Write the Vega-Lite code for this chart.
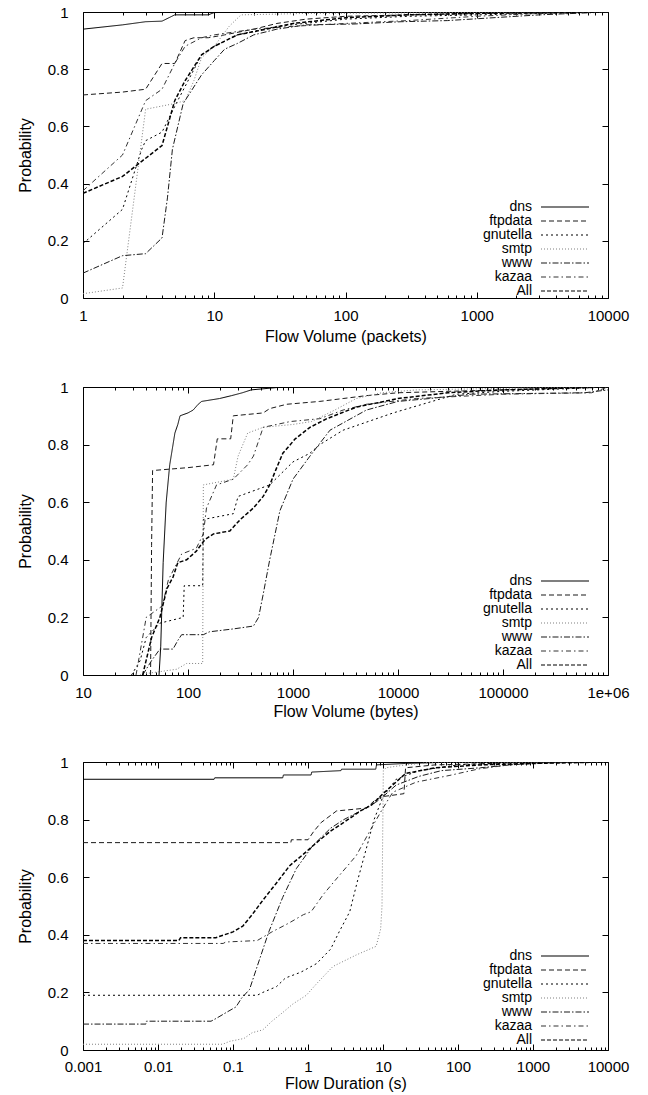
{
"$schema": "https://vega.github.io/schema/vega-lite/v6.json",
"padding": {"left": 17, "top": 5, "right": 5, "bottom": 5},
"spacing": 36,
"datasets": {
"p1": [
{"s":"dns","x":1,"p":0.94},{"s":"dns","x":2,"p":0.955},{"s":"dns","x":3,"p":0.966},{"s":"dns","x":4,"p":0.968},{"s":"dns","x":5,"p":0.99},{"s":"dns","x":9,"p":0.99},{"s":"dns","x":10,"p":0.998},{"s":"dns","x":20,"p":1},{"s":"dns","x":10000,"p":1},
{"s":"ftpdata","x":1,"p":0.71},{"s":"ftpdata","x":2,"p":0.72},{"s":"ftpdata","x":3,"p":0.73},{"s":"ftpdata","x":4,"p":0.82},{"s":"ftpdata","x":5,"p":0.82},{"s":"ftpdata","x":6,"p":0.9},{"s":"ftpdata","x":7,"p":0.91},{"s":"ftpdata","x":9,"p":0.91},{"s":"ftpdata","x":12,"p":0.92},{"s":"ftpdata","x":20,"p":0.94},{"s":"ftpdata","x":30,"p":0.96},{"s":"ftpdata","x":50,"p":0.975},{"s":"ftpdata","x":100,"p":0.985},{"s":"ftpdata","x":300,"p":0.99},{"s":"ftpdata","x":1000,"p":0.995},{"s":"ftpdata","x":10000,"p":1},
{"s":"gnutella","x":1,"p":0.19},{"s":"gnutella","x":2,"p":0.31},{"s":"gnutella","x":2.8,"p":0.52},{"s":"gnutella","x":3,"p":0.55},{"s":"gnutella","x":4,"p":0.58},{"s":"gnutella","x":5,"p":0.67},{"s":"gnutella","x":6,"p":0.74},{"s":"gnutella","x":8,"p":0.85},{"s":"gnutella","x":10,"p":0.88},{"s":"gnutella","x":15,"p":0.92},{"s":"gnutella","x":30,"p":0.95},{"s":"gnutella","x":100,"p":0.975},{"s":"gnutella","x":300,"p":0.985},{"s":"gnutella","x":1000,"p":0.99},{"s":"gnutella","x":10000,"p":1},
{"s":"smtp","x":1,"p":0.015},{"s":"smtp","x":2,"p":0.035},{"s":"smtp","x":3,"p":0.66},{"s":"smtp","x":5,"p":0.68},{"s":"smtp","x":6,"p":0.69},{"s":"smtp","x":7,"p":0.76},{"s":"smtp","x":8,"p":0.84},{"s":"smtp","x":10,"p":0.88},{"s":"smtp","x":13,"p":0.95},{"s":"smtp","x":16,"p":0.99},{"s":"smtp","x":50,"p":0.995},{"s":"smtp","x":10000,"p":1},
{"s":"www","x":1,"p":0.087},{"s":"www","x":2,"p":0.148},{"s":"www","x":3,"p":0.155},{"s":"www","x":4,"p":0.21},{"s":"www","x":4.4,"p":0.35},{"s":"www","x":4.8,"p":0.52},{"s":"www","x":5.8,"p":0.68},{"s":"www","x":8,"p":0.78},{"s":"www","x":10,"p":0.83},{"s":"www","x":12,"p":0.87},{"s":"www","x":15,"p":0.89},{"s":"www","x":20,"p":0.92},{"s":"www","x":30,"p":0.94},{"s":"www","x":50,"p":0.955},{"s":"www","x":116,"p":0.958},{"s":"www","x":265,"p":0.966},{"s":"www","x":600,"p":0.97},{"s":"www","x":3000,"p":0.99},{"s":"www","x":10000,"p":1},
{"s":"kazaa","x":1,"p":0.375},{"s":"kazaa","x":2,"p":0.5},{"s":"kazaa","x":3,"p":0.69},{"s":"kazaa","x":4,"p":0.73},{"s":"kazaa","x":5,"p":0.82},{"s":"kazaa","x":6,"p":0.88},{"s":"kazaa","x":8,"p":0.91},{"s":"kazaa","x":10,"p":0.92},{"s":"kazaa","x":20,"p":0.94},{"s":"kazaa","x":40,"p":0.95},{"s":"kazaa","x":100,"p":0.96},{"s":"kazaa","x":300,"p":0.97},{"s":"kazaa","x":1000,"p":0.985},{"s":"kazaa","x":3000,"p":0.995},{"s":"kazaa","x":10000,"p":1},
{"s":"All","x":1,"p":0.366},{"s":"All","x":2,"p":0.425},{"s":"All","x":2.8,"p":0.478},{"s":"All","x":4,"p":0.533},{"s":"All","x":4.4,"p":0.6},{"s":"All","x":5,"p":0.69},{"s":"All","x":6,"p":0.76},{"s":"All","x":8,"p":0.85},{"s":"All","x":10,"p":0.88},{"s":"All","x":15,"p":0.92},{"s":"All","x":25,"p":0.94},{"s":"All","x":40,"p":0.96},{"s":"All","x":100,"p":0.98},{"s":"All","x":300,"p":0.99},{"s":"All","x":1000,"p":0.995},{"s":"All","x":10000,"p":1}
],
"p2": [
{"s":"dns","x":53,"p":0},{"s":"dns","x":55,"p":0.1},{"s":"dns","x":58,"p":0.39},{"s":"dns","x":62,"p":0.6},{"s":"dns","x":65,"p":0.68},{"s":"dns","x":67,"p":0.73},{"s":"dns","x":72,"p":0.8},{"s":"dns","x":75,"p":0.84},{"s":"dns","x":80,"p":0.87},{"s":"dns","x":84,"p":0.9},{"s":"dns","x":100,"p":0.91},{"s":"dns","x":112,"p":0.92},{"s":"dns","x":125,"p":0.94},{"s":"dns","x":135,"p":0.95},{"s":"dns","x":200,"p":0.96},{"s":"dns","x":260,"p":0.97},{"s":"dns","x":330,"p":0.98},{"s":"dns","x":400,"p":0.99},{"s":"dns","x":800,"p":1},{"s":"dns","x":1000000,"p":1},
{"s":"ftpdata","x":44,"p":0},{"s":"ftpdata","x":45,"p":0.45},{"s":"ftpdata","x":46,"p":0.71},{"s":"ftpdata","x":100,"p":0.72},{"s":"ftpdata","x":175,"p":0.73},{"s":"ftpdata","x":190,"p":0.82},{"s":"ftpdata","x":255,"p":0.82},{"s":"ftpdata","x":270,"p":0.9},{"s":"ftpdata","x":520,"p":0.91},{"s":"ftpdata","x":600,"p":0.925},{"s":"ftpdata","x":870,"p":0.94},{"s":"ftpdata","x":1800,"p":0.95},{"s":"ftpdata","x":3000,"p":0.96},{"s":"ftpdata","x":5000,"p":0.97},{"s":"ftpdata","x":10000,"p":0.98},{"s":"ftpdata","x":30000,"p":0.985},{"s":"ftpdata","x":100000,"p":0.99},{"s":"ftpdata","x":300000,"p":0.995},{"s":"ftpdata","x":1000000,"p":1},
{"s":"gnutella","x":29,"p":0},{"s":"gnutella","x":35,"p":0.05},{"s":"gnutella","x":40,"p":0.13},{"s":"gnutella","x":54,"p":0.18},{"s":"gnutella","x":90,"p":0.2},{"s":"gnutella","x":92,"p":0.31},{"s":"gnutella","x":138,"p":0.31},{"s":"gnutella","x":140,"p":0.54},{"s":"gnutella","x":270,"p":0.56},{"s":"gnutella","x":300,"p":0.62},{"s":"gnutella","x":600,"p":0.66},{"s":"gnutella","x":1000,"p":0.74},{"s":"gnutella","x":1450,"p":0.77},{"s":"gnutella","x":1800,"p":0.8},{"s":"gnutella","x":3000,"p":0.85},{"s":"gnutella","x":9000,"p":0.91},{"s":"gnutella","x":36000,"p":0.975},{"s":"gnutella","x":100000,"p":0.985},{"s":"gnutella","x":1000000,"p":1},
{"s":"smtp","x":35,"p":0},{"s":"smtp","x":40,"p":0.005},{"s":"smtp","x":50,"p":0.01},{"s":"smtp","x":78,"p":0.02},{"s":"smtp","x":97,"p":0.04},{"s":"smtp","x":138,"p":0.04},{"s":"smtp","x":140,"p":0.66},{"s":"smtp","x":270,"p":0.68},{"s":"smtp","x":300,"p":0.76},{"s":"smtp","x":370,"p":0.84},{"s":"smtp","x":520,"p":0.86},{"s":"smtp","x":1000,"p":0.87},{"s":"smtp","x":1500,"p":0.88},{"s":"smtp","x":2500,"p":0.92},{"s":"smtp","x":4000,"p":0.96},{"s":"smtp","x":7000,"p":0.98},{"s":"smtp","x":15000,"p":0.99},{"s":"smtp","x":100000,"p":0.995},{"s":"smtp","x":1000000,"p":1},
{"s":"www","x":37,"p":0},{"s":"www","x":45,"p":0.05},{"s":"www","x":54,"p":0.09},{"s":"www","x":72,"p":0.09},{"s":"www","x":80,"p":0.12},{"s":"www","x":87,"p":0.14},{"s":"www","x":140,"p":0.14},{"s":"www","x":160,"p":0.15},{"s":"www","x":270,"p":0.16},{"s":"www","x":420,"p":0.17},{"s":"www","x":470,"p":0.2},{"s":"www","x":520,"p":0.28},{"s":"www","x":600,"p":0.4},{"s":"www","x":750,"p":0.57},{"s":"www","x":1000,"p":0.68},{"s":"www","x":1450,"p":0.76},{"s":"www","x":2250,"p":0.85},{"s":"www","x":5000,"p":0.92},{"s":"www","x":10000,"p":0.95},{"s":"www","x":20000,"p":0.96},{"s":"www","x":50000,"p":0.975},{"s":"www","x":600000,"p":0.98},{"s":"www","x":1000000,"p":0.99},
{"s":"kazaa","x":32,"p":0},{"s":"kazaa","x":40,"p":0.2},{"s":"kazaa","x":57,"p":0.24},{"s":"kazaa","x":65,"p":0.33},{"s":"kazaa","x":87,"p":0.42},{"s":"kazaa","x":120,"p":0.44},{"s":"kazaa","x":140,"p":0.49},{"s":"kazaa","x":150,"p":0.58},{"s":"kazaa","x":187,"p":0.66},{"s":"kazaa","x":270,"p":0.68},{"s":"kazaa","x":370,"p":0.73},{"s":"kazaa","x":420,"p":0.76},{"s":"kazaa","x":520,"p":0.86},{"s":"kazaa","x":940,"p":0.88},{"s":"kazaa","x":1800,"p":0.89},{"s":"kazaa","x":3000,"p":0.92},{"s":"kazaa","x":5000,"p":0.94},{"s":"kazaa","x":15000,"p":0.96},{"s":"kazaa","x":100000,"p":0.975},{"s":"kazaa","x":700000,"p":0.98},{"s":"kazaa","x":1000000,"p":1},
{"s":"All","x":37,"p":0},{"s":"All","x":45,"p":0.13},{"s":"All","x":54,"p":0.2},{"s":"All","x":63,"p":0.3},{"s":"All","x":72,"p":0.34},{"s":"All","x":80,"p":0.39},{"s":"All","x":97,"p":0.4},{"s":"All","x":120,"p":0.43},{"s":"All","x":145,"p":0.47},{"s":"All","x":175,"p":0.49},{"s":"All","x":250,"p":0.5},{"s":"All","x":315,"p":0.54},{"s":"All","x":420,"p":0.58},{"s":"All","x":520,"p":0.62},{"s":"All","x":600,"p":0.66},{"s":"All","x":700,"p":0.72},{"s":"All","x":800,"p":0.77},{"s":"All","x":1050,"p":0.82},{"s":"All","x":1450,"p":0.86},{"s":"All","x":2100,"p":0.89},{"s":"All","x":4000,"p":0.93},{"s":"All","x":10000,"p":0.96},{"s":"All","x":30000,"p":0.98},{"s":"All","x":100000,"p":0.99},{"s":"All","x":1000000,"p":1}
],
"p3": [
{"s":"dns","x":0.001,"p":0.94},{"s":"dns","x":0.056,"p":0.94},{"s":"dns","x":0.057,"p":0.945},{"s":"dns","x":0.46,"p":0.945},{"s":"dns","x":0.47,"p":0.955},{"s":"dns","x":1.1,"p":0.955},{"s":"dns","x":1.12,"p":0.965},{"s":"dns","x":2.75,"p":0.97},{"s":"dns","x":2.8,"p":0.975},{"s":"dns","x":8,"p":0.975},{"s":"dns","x":8.2,"p":0.99},{"s":"dns","x":20,"p":0.995},{"s":"dns","x":100,"p":1},{"s":"dns","x":10000,"p":1},
{"s":"ftpdata","x":0.001,"p":0.72},{"s":"ftpdata","x":0.59,"p":0.72},{"s":"ftpdata","x":0.6,"p":0.73},{"s":"ftpdata","x":1.0,"p":0.73},{"s":"ftpdata","x":1.2,"p":0.76},{"s":"ftpdata","x":1.5,"p":0.79},{"s":"ftpdata","x":2.4,"p":0.83},{"s":"ftpdata","x":6,"p":0.84},{"s":"ftpdata","x":8,"p":0.87},{"s":"ftpdata","x":10,"p":0.88},{"s":"ftpdata","x":19,"p":0.89},{"s":"ftpdata","x":20,"p":0.98},{"s":"ftpdata","x":50,"p":0.99},{"s":"ftpdata","x":300,"p":0.995},{"s":"ftpdata","x":1000,"p":1},{"s":"ftpdata","x":10000,"p":1},
{"s":"gnutella","x":0.001,"p":0.19},{"s":"gnutella","x":0.21,"p":0.19},{"s":"gnutella","x":0.25,"p":0.2},{"s":"gnutella","x":0.38,"p":0.22},{"s":"gnutella","x":0.5,"p":0.25},{"s":"gnutella","x":0.8,"p":0.27},{"s":"gnutella","x":1.3,"p":0.3},{"s":"gnutella","x":2.0,"p":0.35},{"s":"gnutella","x":2.6,"p":0.41},{"s":"gnutella","x":3.6,"p":0.48},{"s":"gnutella","x":4.6,"p":0.59},{"s":"gnutella","x":6,"p":0.7},{"s":"gnutella","x":7.6,"p":0.8},{"s":"gnutella","x":10,"p":0.88},{"s":"gnutella","x":15,"p":0.94},{"s":"gnutella","x":30,"p":0.97},{"s":"gnutella","x":100,"p":0.99},{"s":"gnutella","x":1000,"p":1},{"s":"gnutella","x":10000,"p":1},
{"s":"smtp","x":0.001,"p":0.02},{"s":"smtp","x":0.073,"p":0.02},{"s":"smtp","x":0.09,"p":0.03},{"s":"smtp","x":0.14,"p":0.04},{"s":"smtp","x":0.18,"p":0.06},{"s":"smtp","x":0.25,"p":0.07},{"s":"smtp","x":0.33,"p":0.1},{"s":"smtp","x":0.46,"p":0.13},{"s":"smtp","x":0.63,"p":0.16},{"s":"smtp","x":0.95,"p":0.19},{"s":"smtp","x":1.3,"p":0.23},{"s":"smtp","x":2.15,"p":0.29},{"s":"smtp","x":4.4,"p":0.33},{"s":"smtp","x":8.1,"p":0.36},{"s":"smtp","x":9.3,"p":0.42},{"s":"smtp","x":9.7,"p":0.5},{"s":"smtp","x":10.1,"p":0.97},{"s":"smtp","x":11,"p":0.98},{"s":"smtp","x":20,"p":0.99},{"s":"smtp","x":50,"p":1},{"s":"smtp","x":10000,"p":1},
{"s":"www","x":0.001,"p":0.09},{"s":"www","x":0.0069,"p":0.09},{"s":"www","x":0.007,"p":0.1},{"s":"www","x":0.051,"p":0.1},{"s":"www","x":0.06,"p":0.11},{"s":"www","x":0.081,"p":0.13},{"s":"www","x":0.11,"p":0.15},{"s":"www","x":0.13,"p":0.18},{"s":"www","x":0.166,"p":0.21},{"s":"www","x":0.21,"p":0.29},{"s":"www","x":0.3,"p":0.41},{"s":"www","x":0.46,"p":0.53},{"s":"www","x":0.7,"p":0.63},{"s":"www","x":1.16,"p":0.71},{"s":"www","x":2,"p":0.77},{"s":"www","x":3,"p":0.8},{"s":"www","x":5,"p":0.83},{"s":"www","x":8,"p":0.86},{"s":"www","x":10,"p":0.88},{"s":"www","x":15,"p":0.92},{"s":"www","x":30,"p":0.95},{"s":"www","x":60,"p":0.97},{"s":"www","x":200,"p":0.98},{"s":"www","x":500,"p":0.99},{"s":"www","x":1000,"p":0.995},{"s":"www","x":5000,"p":1},{"s":"www","x":10000,"p":1},
{"s":"kazaa","x":0.001,"p":0.37},{"s":"kazaa","x":0.074,"p":0.37},{"s":"kazaa","x":0.08,"p":0.375},{"s":"kazaa","x":0.21,"p":0.38},{"s":"kazaa","x":0.33,"p":0.41},{"s":"kazaa","x":0.55,"p":0.44},{"s":"kazaa","x":0.87,"p":0.47},{"s":"kazaa","x":1.1,"p":0.48},{"s":"kazaa","x":1.6,"p":0.54},{"s":"kazaa","x":2.5,"p":0.6},{"s":"kazaa","x":4.4,"p":0.675},{"s":"kazaa","x":7,"p":0.77},{"s":"kazaa","x":10,"p":0.84},{"s":"kazaa","x":13.5,"p":0.895},{"s":"kazaa","x":27.6,"p":0.93},{"s":"kazaa","x":76,"p":0.953},{"s":"kazaa","x":190,"p":0.976},{"s":"kazaa","x":480,"p":0.99},{"s":"kazaa","x":1600,"p":1},{"s":"kazaa","x":10000,"p":1},
{"s":"All","x":0.001,"p":0.38},{"s":"All","x":0.019,"p":0.38},{"s":"All","x":0.02,"p":0.39},{"s":"All","x":0.059,"p":0.39},{"s":"All","x":0.1,"p":0.41},{"s":"All","x":0.135,"p":0.43},{"s":"All","x":0.18,"p":0.47},{"s":"All","x":0.25,"p":0.52},{"s":"All","x":0.38,"p":0.58},{"s":"All","x":0.57,"p":0.64},{"s":"All","x":0.87,"p":0.68},{"s":"All","x":1.3,"p":0.72},{"s":"All","x":2,"p":0.76},{"s":"All","x":3,"p":0.79},{"s":"All","x":5,"p":0.83},{"s":"All","x":7,"p":0.85},{"s":"All","x":10,"p":0.89},{"s":"All","x":20,"p":0.96},{"s":"All","x":50,"p":0.98},{"s":"All","x":200,"p":0.99},{"s":"All","x":1000,"p":0.995},{"s":"All","x":10000,"p":1}
]
},
"vconcat": [
{
"width": 525, "height": 286,
"data": {"name": "p1"},
"layer": [
{"mark": {"type": "line", "clip": true},
"encoding": {
"x": {"field": "x", "type": "quantitative", "scale": {"type": "log", "domain": [1, 10000], "nice": false},
 "axis": {"orient": "bottom", "title": "Flow Volume (packets)", "values": [1,2,3,4,5,6,7,8,9,10,20,30,40,50,60,70,80,90,100,200,300,400,500,600,700,800,900,1000,2000,3000,4000,5000,6000,7000,8000,9000,10000],
  "labelExpr": "abs(log(datum.value)/LN10 - round(log(datum.value)/LN10)) < 0.001 ? format(datum.value, '~g') : ''",
  "labelPadding": 16, "titlePadding": 2,
  "tickSize": {"condition": {"test": "abs(log(datum.value)/LN10 - round(log(datum.value)/LN10)) < 0.001", "value": -6}, "value": -3}}},
"y": {"field": "p", "type": "quantitative", "scale": {"domain": [0, 1], "nice": false}, "axis": {"title": "Probability", "values": [0,0.2,0.4,0.6,0.8,1], "format": "~g", "tickSize": -6, "labelPadding": 21, "titlePadding": 14}},
"color": {"field": "s", "type": "nominal", "scale": {"domain": ["dns","ftpdata","gnutella","smtp","www","kazaa","All"], "range": ["#000000","#1a1a1a","#000000","#808080","#1a1a1a","#333333","#000000"]}, "legend": {"legendX": 475, "legendY": 188}},
"strokeDash": {"field": "s", "type": "nominal", "scale": {"domain": ["dns","ftpdata","gnutella","smtp","www","kazaa","All"], "range": [[1,0],[5,3],[2,3],[1,2],[6,2,1.5,2],[5,3,1.5,3],[4,2]]}, "legend": {"legendX": 475, "legendY": 188}},
"strokeWidth": {"condition": {"test": "datum.s === 'All'", "value": 1.5}, "value": 1}
}},
{"mark": {"type": "point", "opacity": 0},
"encoding": {
"x": {"field": "x", "type": "quantitative", "scale": {"type": "log", "domain": [1, 10000], "nice": false},
 "axis": {"orient": "top", "title": null, "labels": false, "values": [1,2,3,4,5,6,7,8,9,10,20,30,40,50,60,70,80,90,100,200,300,400,500,600,700,800,900,1000,2000,3000,4000,5000,6000,7000,8000,9000,10000],
  "tickSize": {"condition": {"test": "abs(log(datum.value)/LN10 - round(log(datum.value)/LN10)) < 0.001", "value": -6}, "value": -3}}},
"y": {"field": "p", "type": "quantitative", "scale": {"domain": [0, 1], "nice": false}, "axis": {"orient": "right", "title": null, "labels": false, "values": [0,0.2,0.4,0.6,0.8,1], "tickSize": -6}}
}}
],
"resolve": {"axis": {"x": "independent", "y": "independent"}}
},
{
"width": 525, "height": 288,
"data": {"name": "p2"},
"layer": [
{"mark": {"type": "line", "clip": true},
"encoding": {
"x": {"field": "x", "type": "quantitative", "scale": {"type": "log", "domain": [10, 1000000], "nice": false},
 "axis": {"orient": "bottom", "title": "Flow Volume (bytes)", "values": [10,20,30,40,50,60,70,80,90,100,200,300,400,500,600,700,800,900,1000,2000,3000,4000,5000,6000,7000,8000,9000,10000,20000,30000,40000,50000,60000,70000,80000,90000,100000,200000,300000,400000,500000,600000,700000,800000,900000,1000000],
  "labelExpr": "abs(log(datum.value)/LN10 - round(log(datum.value)/LN10)) < 0.001 ? (datum.value > 999999 ? '1e+06' : format(datum.value, '~g')) : ''",
  "labelPadding": 16, "titlePadding": 0,
  "tickSize": {"condition": {"test": "abs(log(datum.value)/LN10 - round(log(datum.value)/LN10)) < 0.001", "value": -6}, "value": -3}}},
"y": {"field": "p", "type": "quantitative", "scale": {"domain": [0, 1], "nice": false}, "axis": {"title": "Probability", "values": [0,0.2,0.4,0.6,0.8,1], "format": "~g", "tickSize": -6, "labelPadding": 21, "titlePadding": 14}},
"color": {"field": "s", "type": "nominal", "scale": {"domain": ["dns","ftpdata","gnutella","smtp","www","kazaa","All"], "range": ["#000000","#1a1a1a","#000000","#808080","#1a1a1a","#333333","#000000"]}, "legend": {"legendX": 475, "legendY": 187}},
"strokeDash": {"field": "s", "type": "nominal", "scale": {"domain": ["dns","ftpdata","gnutella","smtp","www","kazaa","All"], "range": [[1,0],[5,3],[2,3],[1,2],[6,2,1.5,2],[5,3,1.5,3],[4,2]]}, "legend": {"legendX": 475, "legendY": 187}},
"strokeWidth": {"condition": {"test": "datum.s === 'All'", "value": 1.5}, "value": 1}
}},
{"mark": {"type": "point", "opacity": 0},
"encoding": {
"x": {"field": "x", "type": "quantitative", "scale": {"type": "log", "domain": [10, 1000000], "nice": false},
 "axis": {"orient": "top", "title": null, "labels": false, "values": [10,20,30,40,50,60,70,80,90,100,200,300,400,500,600,700,800,900,1000,2000,3000,4000,5000,6000,7000,8000,9000,10000,20000,30000,40000,50000,60000,70000,80000,90000,100000,200000,300000,400000,500000,600000,700000,800000,900000,1000000],
  "tickSize": {"condition": {"test": "abs(log(datum.value)/LN10 - round(log(datum.value)/LN10)) < 0.001", "value": -6}, "value": -3}}},
"y": {"field": "p", "type": "quantitative", "scale": {"domain": [0, 1], "nice": false}, "axis": {"orient": "right", "title": null, "labels": false, "values": [0,0.2,0.4,0.6,0.8,1], "tickSize": -6}}
}}
],
"resolve": {"axis": {"x": "independent", "y": "independent"}}
},
{
"width": 525, "height": 288,
"data": {"name": "p3"},
"layer": [
{"mark": {"type": "line", "clip": true},
"encoding": {
"x": {"field": "x", "type": "quantitative", "scale": {"type": "log", "domain": [0.001, 10000], "nice": false},
 "axis": {"orient": "bottom", "title": "Flow Duration (s)", "values": [0.001,0.002,0.003,0.004,0.005,0.006,0.007,0.008,0.009,0.01,0.02,0.03,0.04,0.05,0.06,0.07,0.08,0.09,0.1,0.2,0.3,0.4,0.5,0.6,0.7,0.8,0.9,1,2,3,4,5,6,7,8,9,10,20,30,40,50,60,70,80,90,100,200,300,400,500,600,700,800,900,1000,2000,3000,4000,5000,6000,7000,8000,9000,10000],
  "labelExpr": "abs(log(datum.value)/LN10 - round(log(datum.value)/LN10)) < 0.001 ? format(datum.value, '~g') : ''",
  "labelPadding": 15, "titlePadding": -2,
  "tickSize": {"condition": {"test": "abs(log(datum.value)/LN10 - round(log(datum.value)/LN10)) < 0.001", "value": -6}, "value": -3}}},
"y": {"field": "p", "type": "quantitative", "scale": {"domain": [0, 1], "nice": false}, "axis": {"title": "Probability", "values": [0,0.2,0.4,0.6,0.8,1], "format": "~g", "tickSize": -6, "labelPadding": 21, "titlePadding": 14}},
"color": {"field": "s", "type": "nominal", "scale": {"domain": ["dns","ftpdata","gnutella","smtp","www","kazaa","All"], "range": ["#000000","#1a1a1a","#000000","#808080","#1a1a1a","#333333","#000000"]}, "legend": {"legendX": 475, "legendY": 187}},
"strokeDash": {"field": "s", "type": "nominal", "scale": {"domain": ["dns","ftpdata","gnutella","smtp","www","kazaa","All"], "range": [[1,0],[5,3],[2,3],[1,2],[6,2,1.5,2],[5,3,1.5,3],[4,2]]}, "legend": {"legendX": 475, "legendY": 187}},
"strokeWidth": {"condition": {"test": "datum.s === 'All'", "value": 1.5}, "value": 1}
}},
{"mark": {"type": "point", "opacity": 0},
"encoding": {
"x": {"field": "x", "type": "quantitative", "scale": {"type": "log", "domain": [0.001, 10000], "nice": false},
 "axis": {"orient": "top", "title": null, "labels": false, "values": [0.001,0.002,0.003,0.004,0.005,0.006,0.007,0.008,0.009,0.01,0.02,0.03,0.04,0.05,0.06,0.07,0.08,0.09,0.1,0.2,0.3,0.4,0.5,0.6,0.7,0.8,0.9,1,2,3,4,5,6,7,8,9,10,20,30,40,50,60,70,80,90,100,200,300,400,500,600,700,800,900,1000,2000,3000,4000,5000,6000,7000,8000,9000,10000],
  "tickSize": {"condition": {"test": "abs(log(datum.value)/LN10 - round(log(datum.value)/LN10)) < 0.001", "value": -6}, "value": -3}}},
"y": {"field": "p", "type": "quantitative", "scale": {"domain": [0, 1], "nice": false}, "axis": {"orient": "right", "title": null, "labels": false, "values": [0,0.2,0.4,0.6,0.8,1], "tickSize": -6}}
}}
],
"resolve": {"axis": {"x": "independent", "y": "independent"}}
}
],
"resolve": {"legend": {"color": "independent", "strokeDash": "independent"}, "scale": {"color": "independent", "strokeDash": "independent"}},
"config": {
"font": "Liberation Sans",
"view": {"stroke": null},
"axis": {"grid": false, "domainColor": "#000000", "tickColor": "#000000", "labelColor": "#000000", "titleColor": "#000000", "labelFontSize": 15, "titleFontSize": 16, "titleFontWeight": "normal", "labelFlush": false, "labelOverlap": false, "labelPadding": 10, "titlePadding": 6},
"legend": {"orient": "none", "title": null, "symbolType": "M-6,0H6", "symbolSize": 64, "symbolStrokeWidth": 1.2, "labelAlign": "right", "labelOffset": -40, "labelFontSize": 14, "labelColor": "#000000", "padding": 0, "rowPadding": 0}
}
}
